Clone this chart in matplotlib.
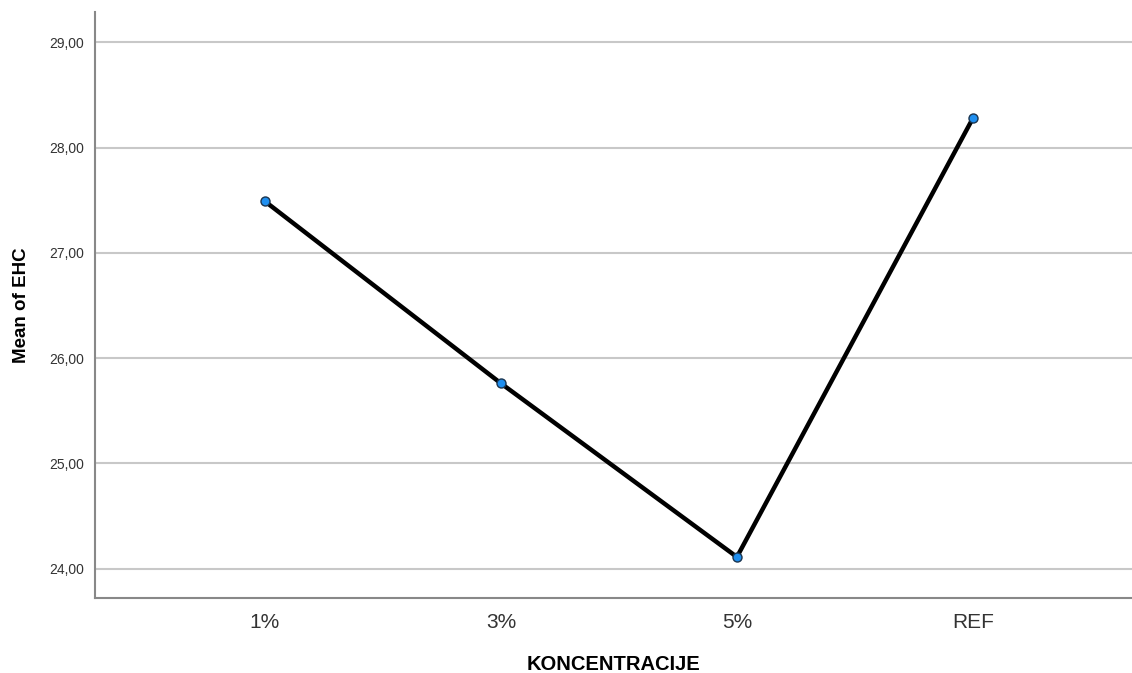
import matplotlib
matplotlib.use("Agg")
import matplotlib.pyplot as plt
from matplotlib.ticker import FuncFormatter

categories = ["1%", "3%", "5%", "REF"]
means = [27.49, 25.76, 24.11, 28.28]
yticks = [24, 25, 26, 27, 28, 29]

plt.rcParams['font.family'] = ['Liberation Sans', 'DejaVu Sans']

fig = plt.figure(figsize=(11.32, 6.73), dpi=100)
ax = fig.add_axes([0.0839, 0.1114, 1 - 0.0839, 0.871])

x = list(range(len(categories)))
ax.plot(x, means, color='black', linewidth=3.2, zorder=3)
ax.plot(x, means, linestyle='none', marker='o', markersize=6.5,
        markerfacecolor='#1f8ff0', markeredgecolor='#1a3550', markeredgewidth=1.0, zorder=4)

ax.set_xlim(-0.72, 3.674)
ax.set_ylim(23.72, 29.29)
ax.set_xticks(x)
ax.set_xticklabels(categories, fontsize=15, color='#333333')
ax.set_yticks(yticks)
ax.yaxis.set_major_formatter(FuncFormatter(lambda v, p: f"{v:.2f}".replace('.', ',')))
ax.tick_params(axis='y', labelsize=10, colors='#333333', length=0, pad=8)
ax.tick_params(axis='x', length=0, pad=11)
ax.grid(axis='y', color='#c8c8c8', linewidth=1.5, zorder=1)
ax.set_axisbelow(True)

for s in ['top', 'right']:
    ax.spines[s].set_visible(False)
for s in ['left', 'bottom']:
    ax.spines[s].set_color('#888888')
    ax.spines[s].set_linewidth(1.5)

ax.set_ylabel("Mean of EHC", fontsize=13.5, fontweight='bold', labelpad=14)
ax.set_xlabel("KONCENTRACIJE", fontsize=14.5, fontweight='bold', labelpad=16)

fig.savefig("out.png", dpi=100)
